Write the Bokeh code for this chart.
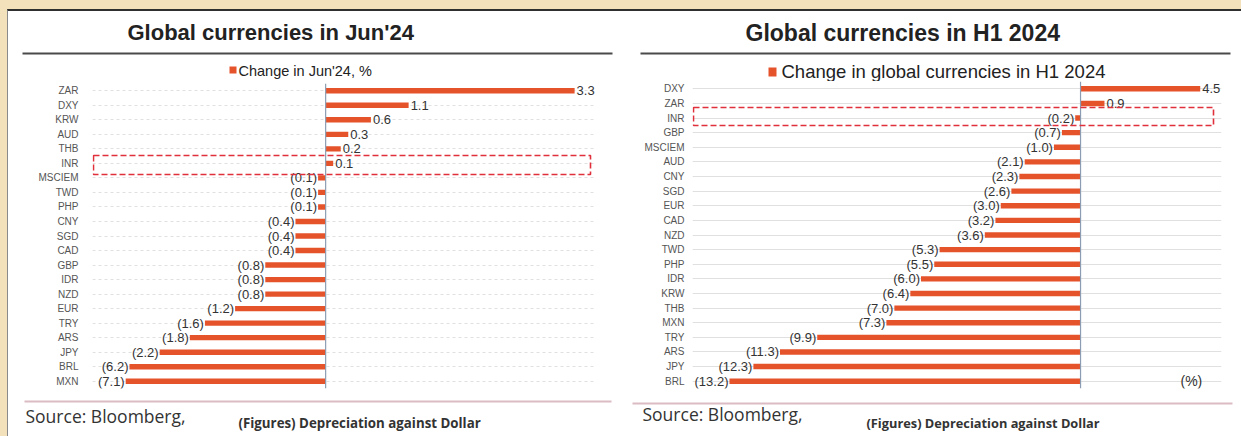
from bokeh.plotting import figure
from bokeh.models import (ColumnDataSource, BoxAnnotation, Label, Span,
                          GlobalInlineStyleSheet, FactorRange, Range1d)
from bokeh.layouts import row, column
from bokeh.embed import file_html
from bokeh.resources import INLINE
from bokeh.core.properties import value

# ---------------- data ----------------
jun_cats = ["ZAR", "DXY", "KRW", "AUD", "THB", "INR", "MSCIEM", "TWD", "PHP", "CNY",
            "SGD", "CAD", "GBP", "IDR", "NZD", "EUR", "TRY", "ARS", "JPY", "BRL", "MXN"]
# bar lengths as drawn (BRL / MXN bars are drawn truncated in the source chart)
jun_vals = [3.3, 1.1, 0.6, 0.3, 0.2, 0.1, -0.1, -0.1, -0.1, -0.4,
            -0.4, -0.4, -0.8, -0.8, -0.8, -1.2, -1.6, -1.8, -2.2, -2.6, -2.65]
jun_labels = ["3.3", "1.1", "0.6", "0.3", "0.2", "0.1", "(0.1)", "(0.1)", "(0.1)", "(0.4)",
              "(0.4)", "(0.4)", "(0.8)", "(0.8)", "(0.8)", "(1.2)", "(1.6)", "(1.8)", "(2.2)", "(6.2)", "(7.1)"]

h1_cats = ["DXY", "ZAR", "INR", "GBP", "MSCIEM", "AUD", "CNY", "SGD", "EUR", "CAD", "NZD",
           "TWD", "PHP", "IDR", "KRW", "THB", "MXN", "TRY", "ARS", "JPY", "BRL"]
h1_vals = [4.5, 0.9, -0.2, -0.7, -1.0, -2.1, -2.3, -2.6, -3.0, -3.2, -3.6,
           -5.3, -5.5, -6.0, -6.4, -7.0, -7.3, -9.9, -11.3, -12.3, -13.2]
h1_labels = ["4.5", "0.9", "(0.2)", "(0.7)", "(1.0)", "(2.1)", "(2.3)", "(2.6)", "(3.0)", "(3.2)", "(3.6)",
             "(5.3)", "(5.5)", "(6.0)", "(6.4)", "(7.0)", "(7.3)", "(9.9)", "(11.3)", "(12.3)", "(13.2)"]

BAR = "#e5532b"
TXT = "#333333"


def sbox(l, r, b, t, **kw):
    return BoxAnnotation(left=l, right=r, bottom=b, top=t, left_units="screen",
                         right_units="screen", bottom_units="screen", top_units="screen", **kw)


def slabel(x, y, text, font, size, style="normal", color="#222222"):
    return Label(x=x, y=y, x_units="screen", y_units="screen", text=text, text_font=font,
                 text_font_size=size, text_font_style=style, text_color=color,
                 text_baseline="middle")


def blank(width, height):
    p = figure(width=width, height=height, x_range=Range1d(0, 1), y_range=Range1d(0, 1),
               x_axis_type=None, y_axis_type=None, output_backend="svg", toolbar_location=None,
               min_border=0, frame_align=False)
    p.outline_line_color = None
    p.grid.visible = False
    p.background_fill_color = "white"
    p.border_fill_color = "white"
    return p


def header(width, height, title, title_size, legend, legend_size, pos):
    (tx, ty, rule, sq, lx, ly) = pos
    p = blank(width, height)
    p.add_layout(slabel(tx, ty, title, "Liberation Sans", title_size, "bold"))
    p.add_layout(sbox(*rule, fill_color="#4a4a4a", fill_alpha=1, line_color=None))
    p.add_layout(sbox(*sq, fill_color=BAR, fill_alpha=1, line_color=None))
    p.add_layout(slabel(lx, ly, legend, "Liberation Sans", legend_size))
    return p


def footer(width, height, src_size, fig_size, pos):
    (pink, sx, sy, fx, fy) = pos
    p = blank(width, height)
    p.add_layout(sbox(*pink, fill_color="#dcbcc4", fill_alpha=1, line_color=None))
    p.add_layout(slabel(sx, sy, "Source: Bloomberg,", "Open Sans", src_size, color="#333333"))
    p.add_layout(slabel(fx, fy, "(Figures) Depreciation against Dollar", "Open Sans", fig_size,
                        "bold", color="#333333"))
    return p


def main(cats, vals, labels, width, height, xr, borders, grid_dash, standoff, box):
    p = figure(width=width, height=height, y_range=FactorRange(factors=list(reversed(cats))),
               x_range=xr, output_backend="svg", toolbar_location=None, frame_align=False,
               min_border_left=borders[0], min_border_right=borders[1],
               min_border_top=borders[2], min_border_bottom=borders[3])
    p.outline_line_color = None
    p.background_fill_color = "white"
    p.border_fill_color = "white"
    p.xaxis.visible = False
    p.xgrid.visible = False
    p.ygrid.grid_line_color = "#e0e0e0"
    p.ygrid.grid_line_dash = grid_dash
    ya = p.yaxis[0]
    ya.axis_line_color = None
    ya.major_tick_line_color = None
    ya.minor_tick_line_color = None
    ya.major_label_standoff = standoff
    ya.major_label_text_font = "Liberation Sans"
    ya.major_label_text_font_size = "10px"
    ya.major_label_text_color = "#555555"

    src = ColumnDataSource(dict(cat=cats, val=vals, lab=labels))
    p.hbar(y="cat", left=0, right="val", height=0.37, source=src,
           fill_color=BAR, line_color=None)
    p.add_layout(Span(location=0, dimension="height", line_color="#8c9db3", line_width=1.2))

    pos_idx = [i for i, v in enumerate(vals) if v >= 0]
    neg_idx = [i for i, v in enumerate(vals) if v < 0]
    sp = ColumnDataSource(dict(cat=[cats[i] for i in pos_idx], val=[vals[i] for i in pos_idx],
                               lab=[labels[i] for i in pos_idx]))
    sn = ColumnDataSource(dict(cat=[cats[i] for i in neg_idx], val=[vals[i] for i in neg_idx],
                               lab=[labels[i] for i in neg_idx]))
    common = dict(text="lab", y="cat", x="val", text_baseline="middle", text_color=TXT,
                  text_font=value("Liberation Sans"), text_font_size="13px")
    p.text(source=sp, text_align="left", x_offset=2, **common)
    p.text(source=sn, text_align="right", x_offset=-1, **common)

    p.add_layout(sbox(*box, fill_alpha=0, line_color="#e0303c", line_alpha=1, line_width=1.6,
                      line_dash="6 3"))
    return p


# ---------- left panel (Jun'24) ----------
hl = header(612, 72, "Global currencies in Jun'24", "22px", "Change in Jun'24, %", "14.5px",
            (119, 51, (14, 604, 29, 31), (221, 228, 10, 17), 230, 13))
ml = main(jun_cats, jun_vals, jun_labels, 612, 307, (-3.09, 3.59), (84, 24, 0, 2), "3 3", 8,
          (1, 498, 214, 233))
fl = footer(612, 46, "17.5px", "13.3px", ((16, 603, 34, 36), 17, 21, 230, 14))

# ---------- right panel (H1 2024) ----------
hr = header(621, 70, "Global currencies in H1 2024", "23px",
            "Change in global currencies in H1 2024", "18.5px",
            (125, 49, (20, 610, 27, 29), (148, 156, 5, 14), 161, 10))
mr = main(h1_cats, h1_vals, h1_labels, 621, 309, (-14.59, 5.3), (72, 20, 0, 2), "solid", 2,
          (1, 521, 263, 281))
mr.add_layout(slabel(488, 8, "(%)", "Liberation Sans", "14px", color="#333333"))
fr = footer(621, 46, "17.5px", "12.8px", ((12, 612, 32, 34), 22, 23, 246, 14))

layout = row(column(hl, ml, fl, spacing=0), column(hr, mr, fr, spacing=0), spacing=0,
             styles={"border-top": "2px solid #2f2f2f", "border-left": "1px solid #8a8a8a",
                     "background-color": "white"},
             stylesheets=[GlobalInlineStyleSheet(
                 css="html,body{background:#f2e1bb;overflow:hidden;} body{padding:9px 0 0 7px;}")])

open("out.html", "w").write(file_html(layout, INLINE))
